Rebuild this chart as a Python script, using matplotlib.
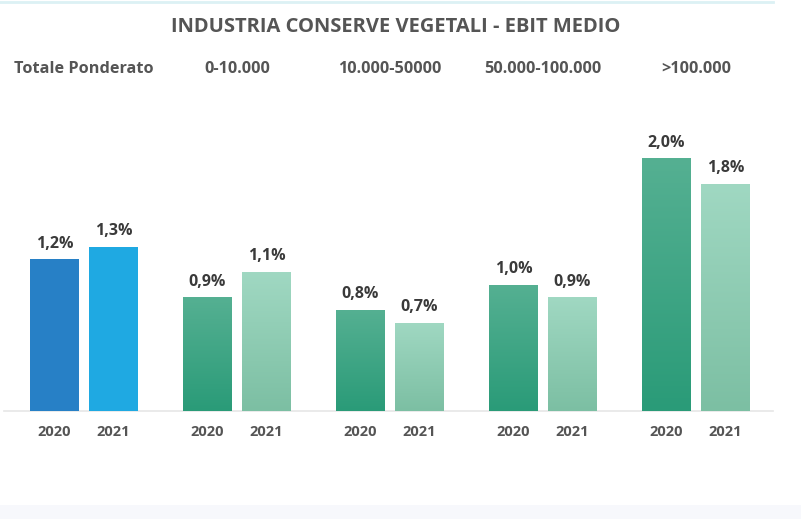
import numpy as np
import matplotlib.pyplot as plt
from matplotlib.patches import Rectangle

plt.rcParams['font.family'] = ['Open Sans', 'DejaVu Sans']

# data
groups = ['Totale Ponderato', '0-10.000', '10.000-50000', '50.000-100.000', '>100.000']
years = ['2020', '2021']
ebit_2020 = [1.2, 0.9, 0.8, 1.0, 2.0]
ebit_2021 = [1.3, 1.1, 0.7, 0.9, 1.8]

txt = '#555555'
val_col = '#3a3a3a'
ytop = 2.47

fig = plt.figure(figsize=(8.01, 5.19), dpi=100)
fig.patch.set_facecolor('white')

# light strip at bottom and thin line at top like the screenshot
fig.patches.append(Rectangle((0, 0), 1, 14 / 519, transform=fig.transFigure,
                             facecolor='#f7f8fc', edgecolor='none', zorder=0))
fig.lines.append(plt.Line2D([0, 0.965], [0.997, 0.997], transform=fig.transFigure,
                            color='#dcf1f4', lw=2))

ax = fig.add_axes([0, 108 / 519, 1, 312 / 519])
ax.axis('off')

x = np.arange(len(groups))
w = 0.32
off = 0.193
xt = ax.get_xaxis_transform()


def grad_bar(xc, h, top, bottom):
    bar = ax.bar(xc, h, width=w, color=bottom, zorder=2)[0]
    c1 = np.array(plt.matplotlib.colors.to_rgb(top))
    c2 = np.array(plt.matplotlib.colors.to_rgb(bottom))
    t = np.linspace(0, 1, 100)[:, None]
    img = (c1 * (1 - t) + c2 * t)[:, None, :]
    im = ax.imshow(img, extent=[xc - w / 2, xc + w / 2, 0, h], aspect='auto',
                   zorder=3, origin='upper')
    im.set_clip_path(bar)


for i in x:
    if i == 0:
        ax.bar(i - off, ebit_2020[i], width=w, color='#2780c6', zorder=2)
        ax.bar(i + off, ebit_2021[i], width=w, color='#1fa9e2', zorder=2)
    else:
        grad_bar(i - off, ebit_2020[i], '#55b092', '#2a9b78')
        grad_bar(i + off, ebit_2021[i], '#a0d8c2', '#7cbfa3')
    for xc, v in [(i - off, ebit_2020[i]), (i + off, ebit_2021[i])]:
        ax.text(xc, v + 0.06, ('%.1f%%' % v).replace('.', ','), ha='center', va='bottom',
                fontsize=11.5, fontweight='bold', color=val_col, zorder=4)
        ax.text(xc, -0.067, years[0] if xc < i else years[1], transform=xt,
                ha='center', va='center', fontsize=10.5, fontweight='bold',
                color=txt, clip_on=False)
    ax.text(i, 1.096, groups[i], transform=xt, ha='center', va='center',
            fontsize=11.7, fontweight='bold', color=txt, clip_on=False)

ax.set_xlim(-84 / 153, (801 - 84) / 153)
ax.set_ylim(0, ytop)
ax.plot([-0.52, 4.5], [0, 0], color='#e6e6e6', lw=1.2, zorder=1, clip_on=False)

fig.text(396 / 801, 1 - 27 / 519, 'INDUSTRIA CONSERVE VEGETALI - EBIT MEDIO', ha='center',
         va='center', fontsize=14.5, fontweight='bold', color=txt)

fig.savefig('out.png', dpi=100)
